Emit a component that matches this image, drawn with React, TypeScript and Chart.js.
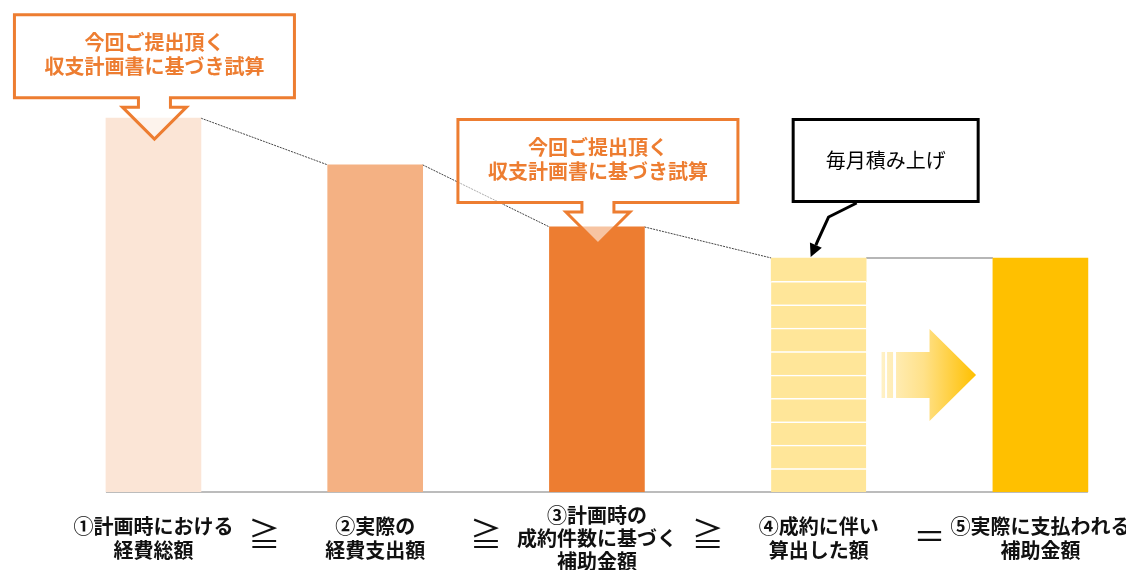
import React, { useEffect, useRef } from "react";
import { Chart, registerables } from "chart.js";

Chart.register(...registerables);

// ---- data ----
const categoryLabels: string[][] = [
  ["①計画時における", "経費総額"],
  ["②実際の", "経費支出額"],
  ["③計画時の", "成約件数に基づく", "補助金額"],
  ["④成約に伴い", "算出した額"],
  ["⑤実際に支払われる", "補助金額"],
];
const totalValues = [100, 87.5, 70.9, 62.6, 62.6];
const barColors = ["#FBE5D6", "#F4B183", "#ED7D31", "#FFE699", "#FFC000"];
const monthlyBarIndex = 3;
const monthlyIncrements = [6.26, 6.26, 6.26, 6.26, 6.26, 6.26, 6.26, 6.26, 6.26, 6.26];
const relationSymbols = ["≧", "≧", "≧", "＝"];
const calloutLines = ["今回ご提出頂く", "収支計画書に基づき試算"];
const calloutBarIndexes = [0, 2];
const monthlyNote = "毎月積み上げ";

const FONT = '"Noto Sans CJK JP", "Noto Sans", sans-serif';
const ORANGE = "#ED7D31";

type BarBox = { x: number; top: number; left: number; right: number };

function collectBars(chart: any): BarBox[] {
  const boxes: BarBox[] = [];
  chart.data.datasets.forEach((ds: any, di: number) => {
    const meta = chart.getDatasetMeta(di);
    meta.data.forEach((el: any, pi: number) => {
      const raw = ds.data[pi];
      const idx = raw.x as number;
      const p = el.getProps(["x", "y", "width"], true);
      const cur = boxes[idx];
      const top = Math.min(p.y, el.base ?? p.y);
      if (!cur) {
        boxes[idx] = { x: p.x, top, left: p.x - p.width / 2, right: p.x + p.width / 2 };
      } else {
        cur.top = Math.min(cur.top, top);
      }
    });
  });
  return boxes;
}

const decorPlugin = {
  id: "decor",
  beforeDatasetsDraw(chart: any) {
    const ctx = chart.ctx as CanvasRenderingContext2D;
    const bars = collectBars(chart);
    const baseY = chart.scales.y.getPixelForValue(0);
    ctx.save();
    // baseline
    ctx.strokeStyle = "#A6A6A6";
    ctx.lineWidth = 1.5;
    ctx.beginPath();
    ctx.moveTo(bars[0].left, baseY);
    ctx.lineTo(bars[bars.length - 1].right, baseY);
    ctx.stroke();
    // connectors
    for (let i = 0; i < bars.length - 1; i++) {
      const a = bars[i];
      const b = bars[i + 1];
      ctx.beginPath();
      if (Math.abs(a.top - b.top) < 1) {
        ctx.setLineDash([]);
        ctx.strokeStyle = "#9E9E9E";
        ctx.lineWidth = 1.5;
      } else {
        ctx.setLineDash([2, 1]);
        ctx.strokeStyle = "#444444";
        ctx.lineWidth = 1;
      }
      ctx.moveTo(a.right, a.top);
      ctx.lineTo(b.left, b.top);
      ctx.stroke();
    }
    ctx.restore();
  },
  afterDatasetsDraw(chart: any) {
    const ctx = chart.ctx as CanvasRenderingContext2D;
    const bars = collectBars(chart);
    const baseY = chart.scales.y.getPixelForValue(0);
    ctx.save();

    // orange callouts
    calloutBarIndexes.forEach((bi, k) => {
      const bar = bars[bi];
      const cx = bar.x + 1;
      const outerTop = bar.top - (k === 0 ? 105 : 109);
      const t = outerTop + 1.5;
      const hw = 140;
      const b = t + 83;
      const stemHW = 16;
      const stemBottom = b + 9.5;
      const headHW = 32;
      const tip = stemBottom + 32;
      ctx.beginPath();
      ctx.moveTo(cx - hw, t);
      ctx.lineTo(cx + hw, t);
      ctx.lineTo(cx + hw, b);
      ctx.lineTo(cx + stemHW, b);
      ctx.lineTo(cx + stemHW, stemBottom);
      ctx.lineTo(cx + headHW, stemBottom);
      ctx.lineTo(cx, tip);
      ctx.lineTo(cx - headHW, stemBottom);
      ctx.lineTo(cx - stemHW, stemBottom);
      ctx.lineTo(cx - stemHW, b);
      ctx.lineTo(cx - hw, b);
      ctx.closePath();
      ctx.fillStyle = "rgba(255,255,255,0.55)";
      ctx.fill();
      ctx.lineJoin = "miter";
      ctx.lineWidth = 3;
      ctx.strokeStyle = ORANGE;
      ctx.stroke();
      ctx.fillStyle = ORANGE;
      ctx.font = `bold 20px ${FONT}`;
      ctx.textAlign = "center";
      ctx.textBaseline = "middle";
      ctx.fillText(calloutLines[0], cx, outerTop + 29);
      ctx.fillText(calloutLines[1], cx, outerTop + 53);
    });

    // black note on monthly bar
    {
      const bar = bars[monthlyBarIndex];
      const cx = bar.x;
      const top = bar.top;
      const l = cx - 25.5;
      const r = cx + 159.5;
      const t = top - 138.5;
      const bt = top - 56.5;
      ctx.beginPath();
      ctx.rect(l, t, r - l, bt - t);
      ctx.fillStyle = "#FFFFFF";
      ctx.fill();
      ctx.lineWidth = 3;
      ctx.strokeStyle = "#000000";
      ctx.stroke();
      ctx.fillStyle = "#000000";
      ctx.font = `20px ${FONT}`;
      ctx.textAlign = "center";
      ctx.textBaseline = "middle";
      ctx.fillText(monthlyNote, (l + r) / 2, top - 98);

      const p0 = [cx + 38, top - 55];
      const p1 = [cx + 10, top - 41];
      const p2 = [cx - 1, top - 17];
      const tipP = [cx - 8, top - 1];
      const dx = tipP[0] - p2[0];
      const dy = tipP[1] - p2[1];
      const len = Math.hypot(dx, dy);
      const ux = dx / len;
      const uy = dy / len;
      const headLen = 13;
      const headHalf = 6.5;
      const bx = tipP[0] - ux * headLen;
      const by = tipP[1] - uy * headLen;
      ctx.beginPath();
      ctx.moveTo(p0[0], p0[1]);
      ctx.lineTo(p1[0], p1[1]);
      ctx.lineTo(p2[0], p2[1]);
      ctx.lineTo(bx, by);
      ctx.lineWidth = 3;
      ctx.lineJoin = "round";
      ctx.stroke();
      ctx.beginPath();
      ctx.moveTo(tipP[0], tipP[1]);
      ctx.lineTo(bx - uy * headHalf, by + ux * headHalf);
      ctx.lineTo(bx + uy * headHalf, by - ux * headHalf);
      ctx.closePath();
      ctx.fill();
    }

    // gradient striped arrow between bar 4 and bar 5
    {
      const a = bars[monthlyBarIndex];
      const b = bars[monthlyBarIndex + 1];
      const cx = (a.right + b.left) / 2;
      const cy = (b.top + baseY) / 2;
      const grad = ctx.createLinearGradient(cx - 48, 0, cx + 46, 0);
      grad.addColorStop(0, "#FFF1C6");
      grad.addColorStop(0.45, "#FFE189");
      grad.addColorStop(1, "#FFC000");
      ctx.fillStyle = grad;
      const bh = 23;
      const hh = 46;
      ctx.fillRect(cx - 48, cy - bh, 3.5, bh * 2);
      ctx.fillRect(cx - 42.5, cy - bh, 6, bh * 2);
      ctx.beginPath();
      ctx.moveTo(cx - 33.5, cy - bh);
      ctx.lineTo(cx, cy - bh);
      ctx.lineTo(cx, cy - hh);
      ctx.lineTo(cx + 46.5, cy);
      ctx.lineTo(cx, cy + hh);
      ctx.lineTo(cx, cy + bh);
      ctx.lineTo(cx - 33.5, cy + bh);
      ctx.closePath();
      ctx.fill();
    }

    // relation symbols
    ctx.fillStyle = "#111111";
    ctx.font = `32px ${FONT}`;
    ctx.textAlign = "center";
    ctx.textBaseline = "middle";
    relationSymbols.forEach((s, i) => {
      const x = (bars[i].right + bars[i + 1].left) / 2;
      ctx.fillText(s, x, baseY + (s === "＝" ? 44 : 42));
    });

    ctx.restore();
  },
};

export default function App() {
  const ref = useRef<HTMLCanvasElement | null>(null);
  useEffect(() => {
    if (!ref.current) return;
    const mainPoints = totalValues
      .map((v, i) => ({ x: i, y: v }))
      .filter((p) => p.x !== monthlyBarIndex);
    const datasets: any[] = [
      {
        label: "total",
        data: mainPoints,
        backgroundColor: mainPoints.map((p) => barColors[p.x]),
        borderWidth: 0,
        barThickness: 95,
      },
      ...monthlyIncrements.map((v, k) => ({
        label: `month${k + 1}`,
        data: [{ x: monthlyBarIndex, y: v }],
        backgroundColor: barColors[monthlyBarIndex],
        borderColor: "#FFFFFF",
        borderWidth: k < monthlyIncrements.length - 1 ? { top: 1.5, left: 0, right: 0, bottom: 0 } : 0,
        borderSkipped: "start",
        barThickness: 95,
      })),
    ];
    const chart = new Chart(ref.current, {
      type: "bar",
      data: { datasets },
      options: {
        animation: false,
        responsive: true,
        maintainAspectRatio: false,
        layout: { padding: { top: 6, left: 0, right: 0, bottom: 0 } },
        plugins: { legend: { display: false }, tooltip: { enabled: false } },
        scales: {
          x: {
            type: "linear",
            stacked: true,
            offset: false,
            min: -0.692,
            max: 4.386,
            grid: { display: false, drawTicks: false },
            border: { display: false },
            afterBuildTicks: (axis: any) => {
              axis.ticks = categoryLabels.map((_, i) => ({ value: i }));
            },
            afterFit: (axis: any) => {
              axis.height = 78;
              axis.paddingLeft = 0;
              axis.paddingRight = 0;
            },
            ticks: {
              autoSkip: false,
              maxRotation: 0,
              minRotation: 0,
              padding: 23,
              crossAlign: "center",
              color: "#111111",
              font: { family: FONT, size: 20, weight: "bold", lineHeight: 1.17 },
              callback: (value: any) => categoryLabels[value as number] ?? "",
            },
          },
          y: {
            display: false,
            stacked: true,
            min: 0,
            max: 130,
          },
        },
      },
      plugins: [decorPlugin],
    } as any);
    return () => chart.destroy();
  }, []);
  return (
    <div style={{ position: "absolute", left: 0, top: 0, width: 1126, height: 570, background: "#fff" }}>
      <canvas ref={ref} />
    </div>
  );
}
